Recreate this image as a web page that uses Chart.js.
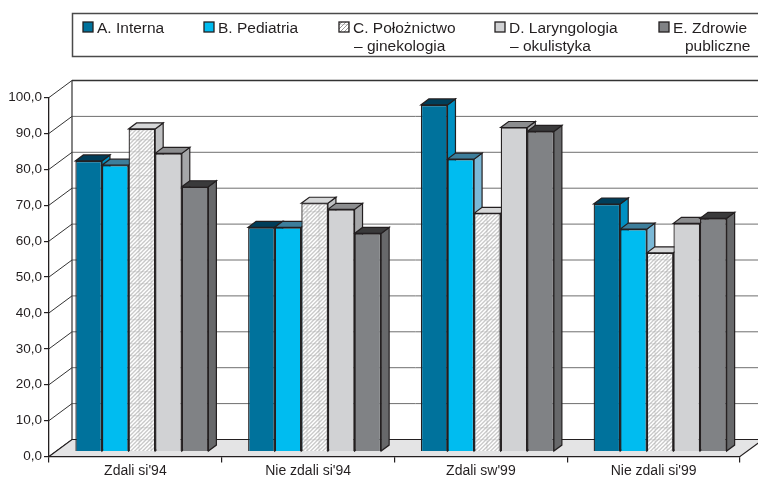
<!DOCTYPE html>
<html>
<head>
<meta charset="utf-8">
<script src="https://cdn.jsdelivr.net/npm/chart.js@4.4.1/dist/chart.umd.min.js"></script>
<style>
  html, body { margin: 0; padding: 0; background: #fff; }
  #wrap { width: 758px; height: 478px; }
</style>
</head>
<body>
<div id="wrap"><canvas id="chart" width="758" height="478"></canvas></div>
<script>
var categories = ["Zdali si'94", "Nie zdali si'94", "Zdali sw'99", "Nie zdali si'99"];

var internaValues      = [81.0, 62.5, 96.6, 69.0];
var pediatriaValues    = [79.8, 62.5, 81.5, 62.0];
var poloznictwoValues  = [89.9, 69.2, 66.4, 55.4];
var laryngologiaValues = [83.1, 67.5, 90.3, 63.6];
var zdrowieValues      = [73.8, 60.8, 89.2, 65.0];

var legendLines = [
  ["A. Interna"],
  ["B. Pediatria"],
  ["C. Położnictwo", "– ginekologia"],
  ["D. Laryngologia", "– okulistyka"],
  ["E. Zdrowie", "publiczne"]
];

var yMin = 0, yMax = 100, yStep = 10;

var FONT = "'Liberation Sans', Arial, Helvetica, sans-serif";
var INK = "#231f20";

// depth of the floor / walls and of each column
var WALL_DX = 23, WALL_DY = 17;
var BAR_SHIFT_X = 6.5, BAR_SHIFT_Y = 4.8;
var BAR_DX = 8, BAR_DY = 6;

// hatched fill used by series C
function makeHatch() {
  var c = document.createElement("canvas");
  c.width = 12; c.height = 12;
  var g = c.getContext("2d");
  g.fillStyle = "#ffffff";
  g.fillRect(0, 0, 12, 12);
  g.strokeStyle = "#dedede";
  g.lineWidth = 1;
  g.beginPath();
  g.moveTo(0.5, 0); g.lineTo(0.5, 12);
  g.moveTo(0, 0.5); g.lineTo(12, 0.5);
  g.stroke();
  g.strokeStyle = "#8f8f8f";
  g.lineWidth = 0.9;
  g.beginPath();
  for (var k = -12; k <= 24; k += 4) {
    g.moveTo(k, 12);
    g.lineTo(k + 12, 0);
  }
  g.stroke();
  return g.createPattern(c, "repeat");
}

var hatch = makeHatch();

var colors = [
  { front: "#00729c", top: "#003e5a", side: "#0090c2" },
  { front: "#00bcf0", top: "#3d7e9b", side: "#7bb8d6" },
  { front: hatch,     top: "#d6d7d8", side: "#bfc0c2" },
  { front: "#d1d2d4", top: "#8c8d8f", side: "#a6a7a9" },
  { front: "#808285", top: "#3a3a3b", side: "#67686a" }
];

var seriesValues = [internaValues, pediatriaValues, poloznictwoValues, laryngologiaValues, zdrowieValues];

var datasets = [];
for (var s = 0; s < seriesValues.length; s++) {
  datasets.push({
    label: legendLines[s].join(" "),
    data: seriesValues[s],
    backgroundColor: colors[s].front,
    borderColor: INK,
    borderWidth: 1.3,
    categoryPercentage: 0.77,
    barPercentage: 1.0,
    clip: false
  });
}

function poly(ctx, pts, fill) {
  ctx.beginPath();
  ctx.moveTo(pts[0][0], pts[0][1]);
  for (var i = 1; i < pts.length; i++) ctx.lineTo(pts[i][0], pts[i][1]);
  ctx.closePath();
  if (fill) { ctx.fillStyle = fill; ctx.fill(); }
  ctx.stroke();
}

// back wall, left wall and floor
var wallsPlugin = {
  id: "walls",
  beforeDraw: function (chart) {
    var ctx = chart.ctx, a = chart.chartArea, ys = chart.scales.y;
    var W = chart.width;
    ctx.save();
    ctx.fillStyle = "#ffffff";
    ctx.fillRect(0, 0, W, chart.height);

    var bx = a.left + WALL_DX;
    var topB = a.top - WALL_DY, botB = a.bottom - WALL_DY;

    // back wall grid
    for (var v = yMin; v <= yMax; v += yStep) {
      var yp = ys.getPixelForValue(v);
      ctx.strokeStyle = (v === yMax) ? "#333333" : "#6f6f6f";
      ctx.lineWidth = (v === yMax) ? 1.5 : 1;
      ctx.beginPath();
      ctx.moveTo(bx, yp - WALL_DY);
      ctx.lineTo(W + 10, yp - WALL_DY);
      ctx.stroke();
      // slanted lines on the side wall
      ctx.strokeStyle = "#333333";
      ctx.lineWidth = 1;
      ctx.beginPath();
      ctx.moveTo(a.left, yp);
      ctx.lineTo(bx, yp - WALL_DY);
      ctx.stroke();
    }

    ctx.strokeStyle = "#333333";
    ctx.lineWidth = 1.2;
    ctx.beginPath();
    ctx.moveTo(bx, topB);
    ctx.lineTo(bx, botB);
    ctx.stroke();

    // floor
    ctx.strokeStyle = INK;
    ctx.lineWidth = 1.2;
    poly(ctx, [[a.left, a.bottom], [bx, botB], [a.right + WALL_DX, botB], [a.right, a.bottom]], "#e4e4e5");
    ctx.restore();
  }
};

// top and side faces of every column, drawn under the front faces
var depthPlugin = {
  id: "depth",
  beforeDatasetsDraw: function (chart) {
    var ctx = chart.ctx;
    ctx.save();
    ctx.translate(BAR_SHIFT_X, -BAR_SHIFT_Y);
    ctx.strokeStyle = INK;
    ctx.lineWidth = 1.2;
    ctx.lineJoin = "miter";
    var n = chart.data.labels.length;
    for (var c = 0; c < n; c++) {
      for (var d = 0; d < chart.data.datasets.length; d++) {
        var el = chart.getDatasetMeta(d).data[c];
        var p = el.getProps(["x", "y", "base", "width"], true);
        var L = p.x - p.width / 2, R = p.x + p.width / 2, T = p.y, B = p.base;
        poly(ctx, [[R, T], [R + BAR_DX, T - BAR_DY], [R + BAR_DX, B - BAR_DY], [R, B]], colors[d].side);
        poly(ctx, [[L, T], [R, T], [R + BAR_DX, T - BAR_DY], [L + BAR_DX, T - BAR_DY]], colors[d].top);
      }
    }
  },
  afterDatasetsDraw: function (chart) {
    chart.ctx.restore();
  }
};

// boxed legend with wrapped labels
var legendPlugin = {
  id: "boxLegend",
  afterDraw: function (chart) {
    var ctx = chart.ctx;
    var slots = [83, 204, 339, 495, 659];
    var secondIndent = [0, 0, 1, 1, 12];
    ctx.save();
    ctx.strokeStyle = "#4a4a4a";
    ctx.lineWidth = 1.5;
    ctx.strokeRect(72.5, 13.5, 700, 43);
    ctx.font = "15.5px " + FONT;
    ctx.textBaseline = "alphabetic";
    ctx.textAlign = "left";
    for (var i = 0; i < legendLines.length; i++) {
      var x = slots[i];
      ctx.fillStyle = colors[i].front;
      ctx.fillRect(x, 22, 10, 10);
      ctx.strokeStyle = INK;
      ctx.lineWidth = 1.3;
      ctx.strokeRect(x, 22, 10, 10);
      ctx.fillStyle = INK;
      ctx.fillText(legendLines[i][0], x + 14, 32.5);
      if (legendLines[i][1]) {
        ctx.fillText(legendLines[i][1], x + 14 + secondIndent[i], 50.5);
      }
    }
    ctx.restore();
  }
};

var chart = new Chart(document.getElementById("chart").getContext("2d"), {
  type: "bar",
  data: { labels: categories, datasets: datasets },
  plugins: [wallsPlugin, depthPlugin, legendPlugin],
  options: {
    responsive: false,
    animation: false,
    layout: { padding: { top: 97.5, right: 18, bottom: 0, left: 0 } },
    plugins: {
      legend: { display: false },
      tooltip: { enabled: false }
    },
    scales: {
      x: {
        offset: true,
        grid: { display: true, drawOnChartArea: false, drawTicks: true, tickLength: 6, offset: true, color: INK, lineWidth: 1.2 },
        border: { display: true, color: INK, width: 1.3 },
        ticks: { color: INK, font: { family: FONT, size: 14 }, padding: 0, maxRotation: 0 },
        afterFit: function (scale) { scale.height = 21.5; }
      },
      y: {
        min: yMin,
        max: yMax,
        grid: { display: true, drawOnChartArea: false, drawTicks: true, tickLength: 5, color: INK, lineWidth: 1.2 },
        border: { display: true, color: INK, width: 1.3 },
        ticks: {
          stepSize: yStep,
          color: INK,
          padding: 2,
          font: { family: FONT, size: 13.5 },
          callback: function (v) { return v.toFixed(1).replace(".", ","); }
        },
        afterFit: function (scale) { scale.width = 49; }
      }
    }
  }
});
</script>
</body>
</html>
